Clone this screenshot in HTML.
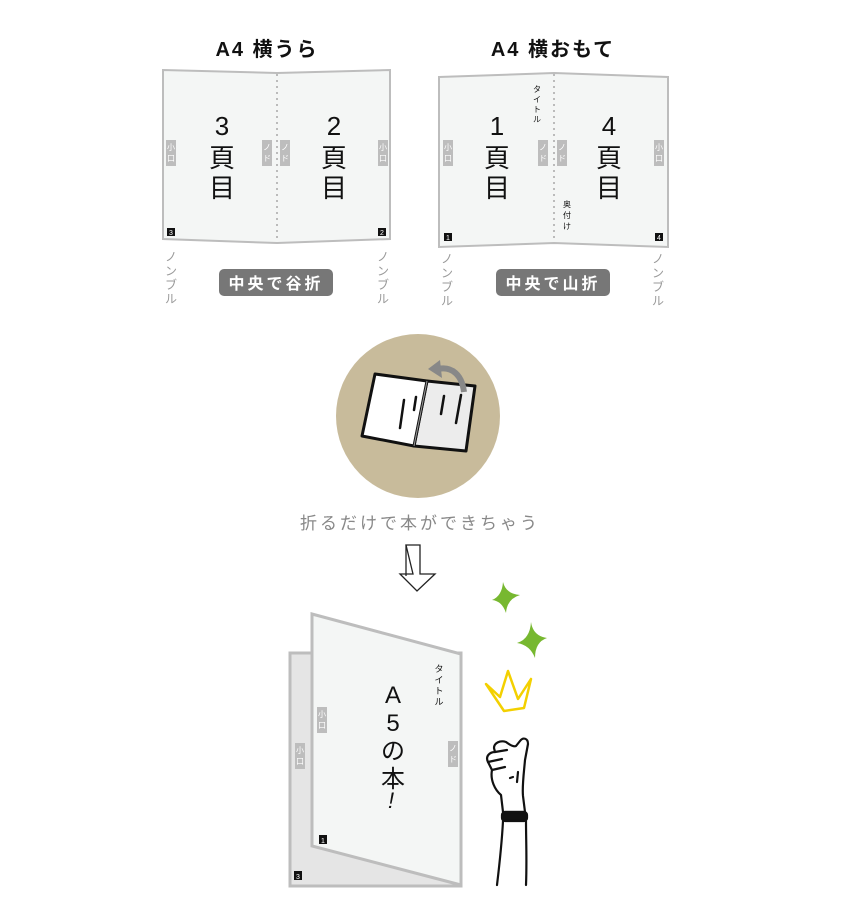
<!DOCTYPE html>
<html><head><meta charset="utf-8"><style>
html,body{margin:0;padding:0;background:#fff;}
svg{display:block;}
text{font-family:"Liberation Sans","Noto Sans CJK JP",sans-serif;}
</style></head><body>
<svg width="842" height="914" viewBox="0 0 842 914" xmlns="http://www.w3.org/2000/svg">
<defs>
<g id="koguchi"><rect x="0" y="0" width="10" height="26" fill="#bdbdbd"/><text x="5" y="10" font-size="8" fill="#fff" text-anchor="middle">小</text><text x="5" y="21" font-size="8" fill="#fff" text-anchor="middle">口</text></g>
<g id="nodo"><rect x="0" y="0" width="10" height="26" fill="#bdbdbd"/><text x="5" y="10" font-size="8" fill="#fff" text-anchor="middle">ノ</text><text x="5" y="21" font-size="8" fill="#fff" text-anchor="middle">ド</text></g>
<g id="nombre" fill="#999" font-size="12" text-anchor="middle"><text x="0" y="12">ノ</text><text x="0" y="26">ン</text><text x="0" y="40">ブ</text><text x="0" y="54">ル</text></g>
</defs>

<text x="267" y="56" font-size="20" font-weight="bold" text-anchor="middle" letter-spacing="2" fill="#111">A4 横うら</text>
<text x="553" y="56" font-size="20" font-weight="bold" text-anchor="middle" letter-spacing="2" fill="#111">A4 横おもて</text>

<polygon points="163,70 277,73 390,70 390,239 277,243 163,239" fill="#f4f6f5" stroke="#bdbdbd" stroke-width="2"/>
<line x1="277" y1="74" x2="277" y2="242" stroke="#bbb" stroke-width="2" stroke-dasharray="2,4"/>
<g font-size="26" text-anchor="middle" fill="#111">
<text x="222" y="135">3</text><text x="222" y="167">頁</text><text x="222" y="197">目</text>
<text x="334" y="135">2</text><text x="334" y="167">頁</text><text x="334" y="197">目</text>
</g>
<use href="#koguchi" x="166" y="140"/><use href="#nodo" x="262" y="140"/><use href="#nodo" x="280" y="140"/><use href="#koguchi" x="378" y="140"/>
<rect x="167" y="228" width="8" height="8" fill="#111"/><rect x="378" y="228" width="8" height="8" fill="#111"/>
<text x="171" y="235" font-size="7" fill="#fff" text-anchor="middle">3</text><text x="382" y="235" font-size="7" fill="#fff" text-anchor="middle">2</text>
<use href="#nombre" x="171" y="249"/><use href="#nombre" x="383" y="249"/>
<rect x="219" y="269" width="114" height="27" rx="5" fill="#777"/>
<text x="276" y="289" font-size="16" font-weight="bold" fill="#fff" text-anchor="middle" letter-spacing="3">中央で谷折</text>

<polygon points="439,77 554,73 668,77 668,247 554,243 439,247" fill="#f4f6f5" stroke="#bdbdbd" stroke-width="2"/>
<line x1="554" y1="74" x2="554" y2="242" stroke="#bbb" stroke-width="2" stroke-dasharray="2,4"/>
<g font-size="26" text-anchor="middle" fill="#111">
<text x="497" y="135">1</text><text x="497" y="167">頁</text><text x="497" y="197">目</text>
<text x="609" y="135">4</text><text x="609" y="167">頁</text><text x="609" y="197">目</text>
</g>
<g font-size="8" text-anchor="middle" fill="#111">
<text x="537" y="92">タ</text><text x="537" y="102">イ</text><text x="537" y="112">ト</text><text x="537" y="122">ル</text>
<text x="567" y="207">奥</text><text x="567" y="218">付</text><text x="567" y="229">け</text>
</g>
<use href="#koguchi" x="443" y="140"/><use href="#nodo" x="538" y="140"/><use href="#nodo" x="557" y="140"/><use href="#koguchi" x="654" y="140"/>
<rect x="444" y="233" width="8" height="8" fill="#111"/><rect x="655" y="233" width="8" height="8" fill="#111"/>
<text x="448" y="240" font-size="7" fill="#fff" text-anchor="middle">1</text><text x="659" y="240" font-size="7" fill="#fff" text-anchor="middle">4</text>
<use href="#nombre" x="447" y="251"/><use href="#nombre" x="658" y="251"/>
<rect x="496" y="269" width="114" height="27" rx="5" fill="#777"/>
<text x="553" y="289" font-size="16" font-weight="bold" fill="#fff" text-anchor="middle" letter-spacing="3">中央で山折</text>

<circle cx="418" cy="416" r="82" fill="#c8bb9b"/>
<polygon points="427,381 475,386 466,451 414,446" fill="#ececec" stroke="#111" stroke-width="3" stroke-linejoin="round"/>
<polygon points="375,374 427,381 414,446 362,436" fill="#fff" stroke="#111" stroke-width="3" stroke-linejoin="round"/>
<line x1="427" y1="381" x2="414" y2="446" stroke="#999" stroke-width="1"/>
<g stroke="#111" stroke-width="2.5" stroke-linecap="round" fill="none">
<path d="M404,400 L400,428"/><path d="M416,397 L414,410"/><path d="M444,396 L441,414"/><path d="M461,395 L456,423"/>
</g>
<path d="M464,392 C462,375 452,366 438,369" stroke="#888" stroke-width="6" fill="none"/>
<polygon points="428,369 440,360 442,378" fill="#888"/>

<text x="420" y="529" font-size="17" fill="#888" text-anchor="middle" letter-spacing="3">折るだけで本ができちゃう</text>

<polygon points="406,545 420,545 420,574 435,574 417,591 400,574 413,574" fill="#fff" stroke="#222" stroke-width="1.3"/>
<line x1="406" y1="545" x2="406" y2="576" stroke="#222" stroke-width="1.3"/>

<path d="M503,582 Q506,594 520,595 Q507,599 506,613 Q502,601 492,600 Q502,596 503,582Z" fill="#77b830"/>
<path d="M531,622 Q533,636 547,638 Q535,642 535,658 Q530,645 517,643 Q530,639 531,622Z" fill="#77b830"/>
<polygon points="486,684 500,697 508,671 518,699 531,679 524,708 504,711" fill="none" stroke="#f3d000" stroke-width="2.5" stroke-linejoin="round"/>

<polygon points="290,653 313,653 461,653 461,886 290,886" fill="#e5e5e5" stroke="#bdbdbd" stroke-width="3"/>
<polygon points="312,614 461,654 461,885 312,846" fill="#f4f6f5" stroke="#bdbdbd" stroke-width="3"/>
<g font-size="24" text-anchor="middle" fill="#111">
<text x="393" y="703">A</text><text x="393" y="731">5</text><text x="393" y="759">の</text><text x="393" y="787">本</text>
</g>
<text x="391" y="808" font-size="22" font-style="italic" fill="#111" text-anchor="middle">!</text>
<g font-size="9" text-anchor="middle" fill="#111">
<text x="439" y="672">タ</text><text x="439" y="683">イ</text><text x="439" y="694">ト</text><text x="439" y="705">ル</text>
</g>
<use href="#koguchi" x="317" y="707"/><use href="#koguchi" x="295" y="743"/><use href="#nodo" x="448" y="741"/>
<rect x="319" y="835" width="8" height="9" fill="#111"/><rect x="294" y="871" width="8" height="9" fill="#111"/>
<text x="323" y="843" font-size="7" fill="#fff" text-anchor="middle">1</text><text x="298" y="879" font-size="7" fill="#fff" text-anchor="middle">3</text>

<g stroke="#111" stroke-width="2.2" fill="#fff" stroke-linejoin="round" stroke-linecap="round">
<path d="M503,812 L501,795 C495,790 490,780 492,770 L488,762 C485,756 490,752 495,752 L494,748 C494,743 500,740 506,742 C510,745 514,747 516,746 L520,741 C523,737 528,738 528,744 L525,760 C524,772 522,786 523,796 L525,812 Z"/>
<path d="M488,762 L502,759 M492,770 L505,767 M495,752 L507,750"/>
<path d="M510,778 L513,777 M518,772 L517,782" fill="none"/>
<rect x="502" y="812" width="25" height="9" rx="3" fill="#111"/>
<path d="M503,821 C502,840 500,860 497,885 M526,821 C526,840 527,860 526,885" fill="none"/>
</g>
</svg>
</body></html>
